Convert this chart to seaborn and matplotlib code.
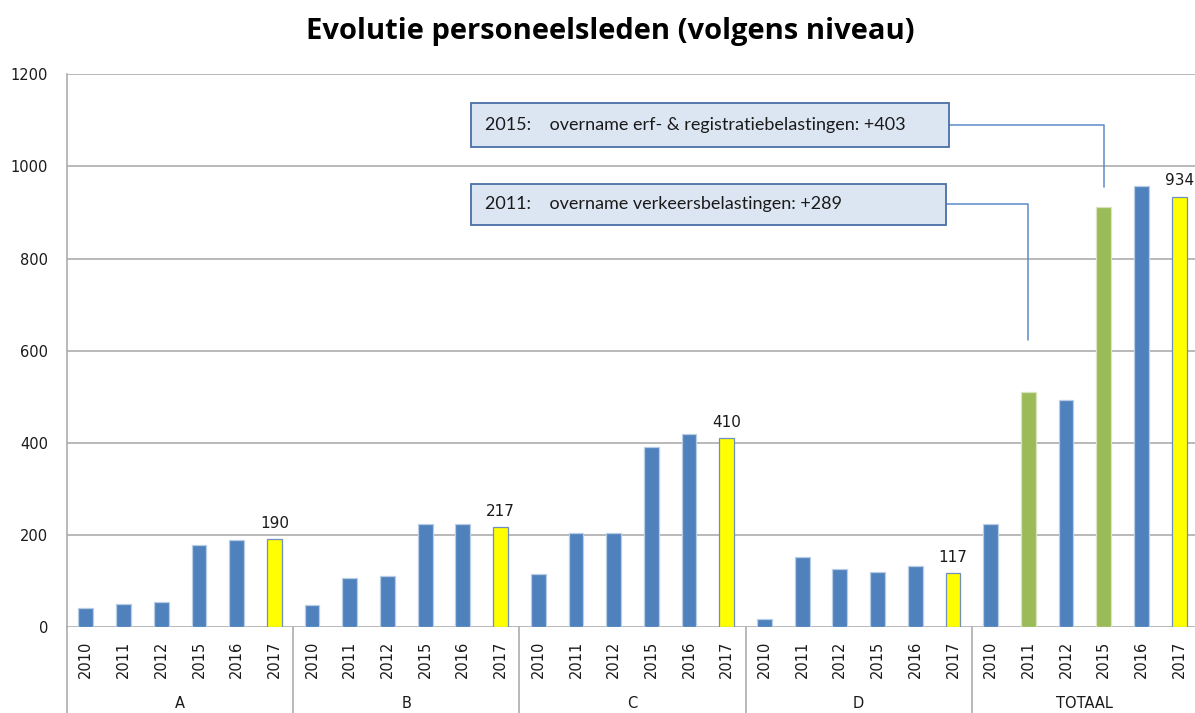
import matplotlib
matplotlib.use("Agg")
import matplotlib.pyplot as plt
import matplotlib.colors as mcolors
import seaborn as sns
import pandas as pd
from matplotlib.patches import Rectangle
from matplotlib.transforms import Affine2D

# ---------------- data ----------------
groups = ["A", "B", "C", "D", "TOTAAL"]
years = ["2010", "2011", "2012", "2015", "2016", "2017"]
A_vals = [42, 51, 54, 179, 188, 190]
B_vals = [48, 107, 110, 223, 223, 217]
C_vals = [116, 204, 204, 391, 419, 410]
D_vals = [17, 151, 125, 119, 132, 117]
TOT_vals = [223, 511, 492, 911, 958, 934]
title = "Evolutie personeelsleden (volgens niveau)"
note_2015 = "2015:    overname erf- & registratiebelastingen: +403"
note_2011 = "2011:    overname verkeersbelastingen: +289"
y_ticks = [0, 200, 400, 600, 800, 1000, 1200]

series = [A_vals, B_vals, C_vals, D_vals, TOT_vals]
rows = []
for g, vals in zip(groups, series):
    for y, v in zip(years, vals):
        if y == "2017":
            kind = "highlight"
        elif g == "TOTAAL" and y in ("2011", "2015"):
            kind = "takeover"
        else:
            kind = "normal"
        rows.append({"key": f"{g}|{y}", "group": g, "year": y, "value": v, "kind": kind})
df = pd.DataFrame(rows)

palette = {"normal": "#4F81BD", "takeover": "#9BBB59", "highlight": "#FFFF00"}
edges = {"#4f81bd": "#B9CDE5", "#9bbb59": "#D7E4BD", "#ffff00": "#6F8FBF"}

# ---------------- figure ----------------
sns.set_theme(style="white")
plt.rcParams["font.family"] = ["DejaVu Sans"]
W, H = 1195, 713
fig = plt.figure(figsize=(W / 100, H / 100), dpi=100)
ax = fig.add_axes([67 / W, 1 - 627 / H, 1131 / W, (627 - 74.3) / H])

sns.barplot(data=df, x="key", y="value", hue="kind", palette=palette,
            order=list(df["key"]), dodge=False, width=0.39, legend=False,
            ax=ax, saturation=1)

for p in ax.patches:
    fc = mcolors.to_hex(p.get_facecolor()).lower()
    p.set_edgecolor(edges.get(fc, "none"))
    p.set_linewidth(0.9)

grid_c = "#A6A6A6"
ax.set_xlim(-0.5, len(df) - 0.5)
ax.set_ylim(0, 1200)
ax.set_yticks(y_ticks)
ax.set_yticklabels([str(t) for t in y_ticks], fontsize=10.5, color="#1a1a1a")
ax.yaxis.grid(True, color=grid_c, linewidth=1.1)
ax.set_axisbelow(True)
ax.set_xticks(range(len(df)))
ax.set_xticklabels(df["year"], rotation=90, fontsize=10.5, color="#1a1a1a")
ax.tick_params(axis="y", length=0, pad=13.5)
ax.tick_params(axis="x", length=0, pad=10)
ax.set_xlabel("")
ax.set_ylabel("")
for s in ["top", "right", "bottom"]:
    ax.spines[s].set_visible(False)
ax.spines["left"].set_color(grid_c)
ax.spines["left"].set_linewidth(1.1)

# group separators and labels under the axis
xt = ax.get_xaxis_transform()
axis_h = 627 - 74.3
y_bottom = -(713 - 627) / axis_h
n = len(years)
for i in range(len(groups) + 1):
    xb = i * n - 0.5
    ax.plot([xb, xb], [0, y_bottom], transform=xt, color=grid_c, lw=1.1, clip_on=False)
for i, g in enumerate(groups):
    ax.text(i * n + (n - 1) / 2, -(704 - 627) / axis_h, g, transform=xt,
            ha="center", va="center", fontsize=10.5, color="#1a1a1a")

# value labels on highlighted bars
for i, r in df.iterrows():
    if r["kind"] == "highlight":
        ax.annotate(str(r["value"]), (i, r["value"]), xytext=(0, 6),
                    textcoords="offset points", ha="center", va="bottom",
                    fontsize=11, color="#1a1a1a")

# title
pix = Affine2D().scale(1 / W, -1 / H).translate(0, 1) + fig.transFigure
fig.text(610, 32, title, transform=pix, ha="center", va="center",
         fontsize=21, fontweight="bold", family=["Open Sans", "DejaVu Sans"], color="black")

# annotation boxes with connectors
box_fc = "#DCE6F2"
box_ec = "#4A6FA5"
line_c = "#5B8AC8"
boxes = [
    (471, 103, 949, 147, note_2015, "TOTAAL|2015", 955),
    (471, 184, 946, 225, note_2011, "TOTAAL|2011", 623),
]
keys = list(df["key"])
inv = ax.transData.inverted()
for x0, y0, x1, y1, txt, key, yend in boxes:
    fig.patches.append(Rectangle((x0, y0), x1 - x0, y1 - y0, transform=pix,
                                 facecolor=box_fc, edgecolor=box_ec, lw=1.3, zorder=5))
    fig.text(x0 + 14, (y0 + y1) / 2, txt, transform=pix, ha="left", va="center",
             fontsize=13, family=["Lato", "DejaVu Sans"], color="#1a1a1a", zorder=6)
    idx = keys.index(key)
    ymid = (y0 + y1) / 2
    dx, dy = inv.transform((x1, H - ymid))
    ax.plot([dx, idx, idx], [dy, dy, yend], color=line_c, lw=1.1, clip_on=False, zorder=4)

fig.savefig("out.png", dpi=100)
